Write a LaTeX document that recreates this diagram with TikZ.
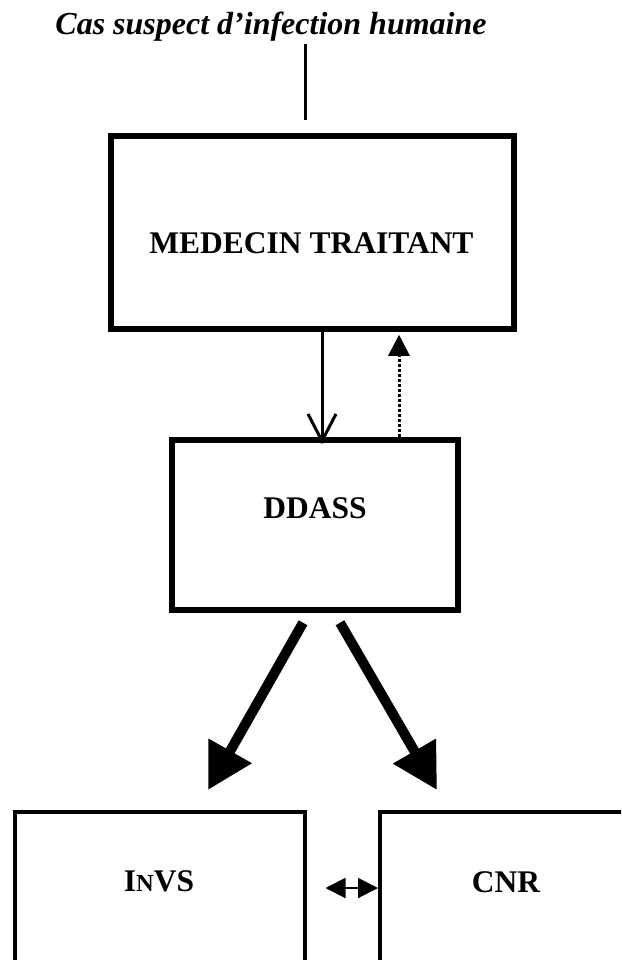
\documentclass[tikz,border=0pt]{standalone}
\usepackage{fontspec}
\setmainfont{Liberation Serif}
\usetikzlibrary{arrows.meta}

\begin{document}
\begin{tikzpicture}[x=1pt, y=-1pt,
    boite/.style={draw, line width=5.5pt, inner sep=0pt},
    boitebas/.style={draw, line width=4pt, inner sep=0pt, minimum width=290pt, minimum height=176pt},
    etiquette/.style={font=\fontsize{31.5}{31.5}\selectfont\bfseries, inner sep=0pt, anchor=base}]

    \useasboundingbox (0,0) rectangle (621,960);
    \clip (0,0) rectangle (621,960);

    % ==================================================
    % Cas suspect
    % ==================================================

    \node[etiquette, font=\fontsize{32}{32}\selectfont\bfseries\itshape] (cas) at (271,35)
      {Cas suspect d’infection humaine};
    \coordinate (entree) at (305,120);
    \draw[line width=3pt, shorten <=2pt] (cas.south -| entree) -- (entree);

    % ==================================================
    % MEDECIN TRAITANT et DDASS
    % ==================================================

    \node[boite, minimum width=403pt, minimum height=193pt] (medecin) at (312.5,232.5) {};
    \node[etiquette] (medecin-t) at (311.5,253) {MEDECIN TRAITANT};

    \node[boite, minimum width=286pt, minimum height=170pt] (ddass) at (315,525) {};
    \node[etiquette] (ddass-t) at (315,518) {DDASS};

    % signalement
    \draw[line width=3pt, -{Straight Barb[length=27pt,width=28pt]}]
      ([xshift=9.5pt]medecin.south) -- ([xshift=7pt,yshift=-7pt]ddass.north);
    % retour
    \draw[line width=3pt, dotted, -{Triangle[length=21pt,width=21pt]}]
      ([xshift=84pt,yshift=-5pt]ddass.north) -- ([xshift=86.5pt,yshift=-3pt]medecin.south);

    % ==================================================
    % InVS et CNR
    % ==================================================

    \node[boitebas] (invs) at (159.5,900) {};
    \node[etiquette] (invs-t) at (159,891) {I{\fontsize{24.5}{24.5}\selectfont N}VS};

    \node[boitebas] (cnr) at (525,900) {};
    \node[etiquette] (cnr-t) at (506,892) {CNR};

    % transmission
    \draw[line width=10pt, -{Triangle[length=45pt,width=47pt]}]
      ([xshift=-12pt,yshift=-10pt]ddass.south) -- ([xshift=48.5pt,yshift=20pt]invs.north);
    \draw[line width=10pt, -{Triangle[length=45pt,width=47pt]}]
      ([xshift=25pt,yshift=-10pt]ddass.south) -- ([xshift=-88pt,yshift=20pt]cnr.north);

    % echange
    \draw[line width=2pt, {Triangle[length=20pt,width=20pt]}-{Triangle[length=20pt,width=20pt]},
      shorten <=19pt] ([yshift=12pt]invs.east) -- ([yshift=12pt]cnr.west);

  \end{tikzpicture}
\end{document}
